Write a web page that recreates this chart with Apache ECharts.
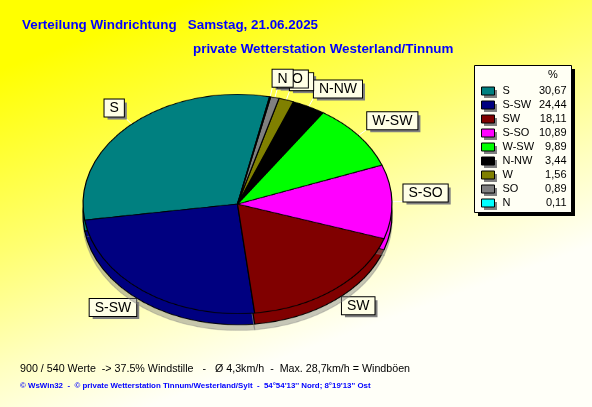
<!DOCTYPE html>
<html><head><meta charset="utf-8">
<script src="https://cdn.jsdelivr.net/npm/echarts@6/dist/echarts.min.js"></script>
<style>
html,body{margin:0;padding:0;width:592px;height:407px;overflow:hidden;background:#ffff00;}
#bg{position:absolute;left:0;top:0;width:592px;height:407px;}
#pie{position:absolute;left:0;top:0;width:592px;height:407px;transform:scaleY(0.71);transform-origin:0 204px;pointer-events:none;}
</style></head><body>
<div id="bg"></div><div id="pie"></div>
<script>
// ---- data ----
const directions = ['S', 'S-SW', 'SW', 'S-SO', 'W-SW', 'N-NW', 'W', 'SO', 'N'];
const percents   = [30.67, 24.44, 18.11, 10.89, 9.89, 3.44, 1.56, 0.89, 0.11];
const sliceColors = ['#008080', '#000080', '#800000', '#FF00FF', '#00FF00', '#000000', '#808000', '#808080', '#00FFFF'];
const titleText = 'Verteilung Windrichtung   Samstag, 21.06.2025';
const subtitleText = 'private Wetterstation Westerland/Tinnum';
const statsText = '900 / 540 Werte  -> 37.5% Windstille   -   Ø 4,3km/h  -  Max. 28,7km/h = Windböen';
const creditText = "© WsWin32  -  © private Wetterstation Tinnum/Westerland/Sylt  -  54°54'13'' Nord; 8°19'13'' Ost";
const legendHeader = '%';

// ---- layout constants ----
const FONT = 'Liberation Sans, Arial, sans-serif';
const CX = 237.5, CY = 204, R = 154.5, K = 0.71, DEPTH = 11;
const LR = 166, LK = 120 / 166;
const START = 78;
const CLEAR = 'rgba(0,0,0,0)';
const LEG = { left: 474, top: 65, pad: [19, 5, 2, 7], iconW: 13, iconH: 8, row: 14, nameW: 33, valW: 31, namePad: 3 };
const LEG_W = LEG.pad[3] + LEG.iconW + 5 + LEG.namePad + LEG.nameW + LEG.valW + LEG.pad[1];
const LEG_H = LEG.pad[0] + directions.length * LEG.row + LEG.pad[2];

const pieData = directions.map((d, i) => ({ name: d, value: percents[i], itemStyle: { color: sliceColors[i] } }));
const fmt = v => v.toFixed(2).replace('.', ',');

// ---- pie (squashed to an ellipse by CSS) ----
const pieChart = echarts.init(document.getElementById('pie'), null, { renderer: 'canvas' });
pieChart.setOption({
  animation: false,
  series: [
    {
      type: 'pie', silent: true, center: [CX, CY + DEPTH / K], radius: R,
      startAngle: START, clockwise: false,
      label: { show: false }, labelLine: { show: false },
      itemStyle: { borderColor: '#000', borderWidth: 1.2, shadowColor: 'rgba(128,128,128,0.45)', shadowOffsetY: 8, shadowBlur: 0 },
      data: pieData
    },
    {
      type: 'pie', silent: true, center: [CX, CY], radius: R,
      startAngle: START, clockwise: false,
      label: { show: false }, labelLine: { show: false },
      itemStyle: { borderColor: '#000', borderWidth: 1.2 },
      data: pieData
    }
  ]
});

// ---- legend (icon shadows + content; box drawn from the same layout constants) ----
function makeLegend(o) {
  const textColor = o.textColor || CLEAR;
  return {
    orient: 'vertical', left: LEG.left + (o.dx || 0), top: LEG.top + (o.dy || 0), padding: LEG.pad, itemGap: 0, z: o.z,
    itemWidth: LEG.iconW, itemHeight: LEG.iconH, icon: 'rect', selectedMode: false,
    backgroundColor: 'transparent', borderWidth: 0,
    itemStyle: o.itemStyle,
    textStyle: {
      fontFamily: FONT, fontSize: 11, color: textColor, lineHeight: LEG.row,
      rich: {
        n: { width: LEG.nameW, padding: [0, 0, 0, LEG.namePad], fontSize: 11, lineHeight: LEG.row, fontFamily: FONT, color: textColor },
        v: { width: LEG.valW, align: 'right', fontSize: 11, lineHeight: LEG.row, fontFamily: FONT, color: textColor }
      }
    },
    formatter: name => '{n|' + name + '}{v|' + fmt(percents[directions.indexOf(name)]) + '}',
    data: o.data || directions
  };
}

// ---- label placement: library places labels on a circle, mapped onto the ellipse ----
function labelPlacer(shift) {
  return function (p) {
    let ax, ay0;
    if (p.labelLinePoints && p.labelLinePoints.length) {
      ax = p.labelLinePoints[0][0]; ay0 = p.labelLinePoints[0][1];
    } else {
      const r = p.labelRect;
      ax = p.align === 'right' ? r.x + r.width : r.x;
      ay0 = r.y + r.height / 2;
    }
    const sy = CY - ay0;
    const ay = CY - sy * LK;
    const ex = CX + (ax - CX) * R / LR;
    const ey = CY - sy * R * K / LR;
    return {
      x: ax + shift, y: ay + shift,
      align: ax >= CX ? 'left' : 'right',
      verticalAlign: sy >= 0 ? 'bottom' : 'top',
      labelLinePoints: [[ex, ey], [ax, ay], [ax, ay]],
      hideOverlap: false, moveOverlap: false
    };
  };
}
function labelSeries(isShadow) {
  return {
    type: 'pie', silent: true, center: [CX, CY], radius: LR,
    startAngle: START, clockwise: false, avoidLabelOverlap: false,
    itemStyle: { opacity: 0 },
    label: {
      show: true, position: 'outside', formatter: '{b}', opacity: 1,
      color: isShadow ? CLEAR : '#000', fontFamily: FONT, fontSize: 14, lineHeight: 14,
      backgroundColor: isShadow ? '#808080' : '#FFFFE6',
      borderColor: isShadow ? CLEAR : '#000', borderWidth: isShadow ? 0 : 1,
      padding: [2, 5, 1, 5],
      distanceToLabelLine: 0, overflow: 'none'
    },
    labelLine: { show: true, length: 0, length2: 0, lineStyle: { color: isShadow ? CLEAR : '#FFFFFF', width: 1 } },
    labelLayout: labelPlacer(isShadow ? 3 : 0),
    data: pieData
  };
}

const bgChart = echarts.init(document.getElementById('bg'), null, { renderer: 'canvas' });
bgChart.setOption({
  animation: false,
  textStyle: { fontFamily: FONT },
  backgroundColor: new echarts.graphic.LinearGradient(0, 0, 0.25, 1, [
    { offset: 0, color: '#FFFF00' },
    { offset: 0.15, color: '#FFFF00' },
    { offset: 0.55, color: '#FFFF70' },
    { offset: 0.8, color: '#FFFFC0' },
    { offset: 1, color: '#FFFFF8' }
  ]),
  graphic: [
    { type: 'rect', z: 1, silent: true,
      shape: { x: LEG.left + 4, y: LEG.top + 4, width: LEG_W, height: LEG_H },
      style: { fill: '#000000' } },
    { type: 'rect', z: 2, silent: true,
      shape: { x: LEG.left + 0.5, y: LEG.top + 0.5, width: LEG_W, height: LEG_H },
      style: { fill: '#FFFFF4', stroke: '#000000', lineWidth: 1 } }
  ],
  title: [
    { text: titleText, left: 22, top: 19, padding: 0, textStyle: { color: '#0000FF', fontFamily: FONT, fontSize: 13.4, fontWeight: 'bold' } },
    { text: subtitleText, left: 193, top: 43, padding: 0, textStyle: { color: '#0000FF', fontFamily: FONT, fontSize: 13.4, fontWeight: 'bold' } },
    { text: legendHeader, left: 548, top: 69, padding: 0, z: 20, textStyle: { color: '#000', fontFamily: FONT, fontSize: 11, fontWeight: 'normal' } },
    { text: statsText, left: 20, top: 364, padding: 0, textStyle: { color: '#000', fontFamily: FONT, fontSize: 10.7, fontWeight: 'normal' } },
    { text: creditText, left: 20, top: 382, padding: 0, textStyle: { color: '#0000FF', fontFamily: FONT, fontSize: 7.9, fontWeight: 'bold' } }
  ],
  legend: [
    makeLegend({ dx: 3, dy: 3, z: 7, itemStyle: { opacity: 1, color: '#808080', borderWidth: 0 },
                 data: directions.map(d => ({ name: d, itemStyle: { color: '#808080', opacity: 1, borderWidth: 0 } })) }),
    makeLegend({ z: 8, textColor: '#000', itemStyle: { opacity: 1, borderColor: '#000', borderWidth: 1 } })
  ],
  series: [labelSeries(true), labelSeries(false)]
});
</script>
</body></html>
